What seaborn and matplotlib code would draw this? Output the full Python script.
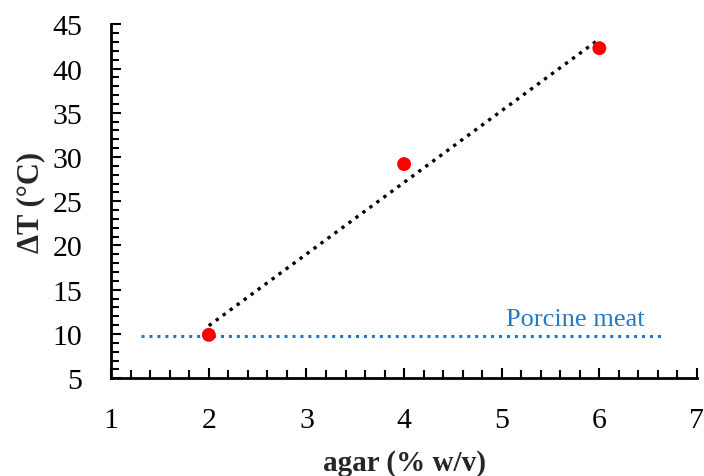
import numpy as np
import pandas as pd
import seaborn as sns
import matplotlib.pyplot as plt
from matplotlib.ticker import MultipleLocator

# data
agar = [2, 4, 6]
delta_t = [9.9, 29.2, 42.3]
porcine_x = [1.3, 6.65]
porcine_dt = 9.8
porcine_label = "Porcine meat"

df = pd.DataFrame({"agar": agar, "dT": delta_t})

sns.set_theme(style="white")
plt.rcParams['font.family'] = ['Liberation Serif', 'DejaVu Serif']

fig, ax = plt.subplots(figsize=(7.04, 4.77), dpi=100)
fig.subplots_adjust(left=0.158, right=0.99, top=0.947, bottom=0.205)

# porcine meat reference line
ax.plot(porcine_x, [porcine_dt, porcine_dt], color="#2478c8", linewidth=2.2,
        linestyle=(0, (1, 1.6)))
ax.text(5.75, porcine_dt + 1.9, porcine_label, color="#2478c8", fontsize=19,
        ha="center", va="center")

# linear trend line
sns.regplot(data=df, x="agar", y="dT", scatter=False, ci=None, ax=ax,
            line_kws=dict(color="black", linewidth=2.4, linestyle=(0, (1, 1.6))))

# data points
sns.scatterplot(data=df, x="agar", y="dT", color="red", s=100, edgecolor="none",
                zorder=5, ax=ax)

ax.set_xlim(1, 7)
ax.set_ylim(5, 45)
ax.xaxis.set_major_locator(MultipleLocator(1))
ax.xaxis.set_minor_locator(MultipleLocator(0.2))
ax.yaxis.set_major_locator(MultipleLocator(5))
ax.yaxis.set_minor_locator(MultipleLocator(1))

for side in ["top", "right"]:
    ax.spines[side].set_visible(False)
for side in ["left", "bottom"]:
    ax.spines[side].set_color("black")
    ax.spines[side].set_linewidth(2)

ax.tick_params(which="both", direction="in", color="black", width=1.5,
               labelsize=21.5, labelcolor="black")
ax.tick_params(which="major", length=7, pad=21)
ax.tick_params(axis="y", which="major", pad=21)
ax.tick_params(which="minor", length=6)
ax.tick_params(which="both", bottom=True, left=True)

ax.set_xlabel("agar (% w/v)", fontsize=21, fontweight="bold", labelpad=11)
ax.set_ylabel("ΔT (°C)", fontsize=22, fontweight="bold", labelpad=5)

fig.savefig("out.png", dpi=100)
